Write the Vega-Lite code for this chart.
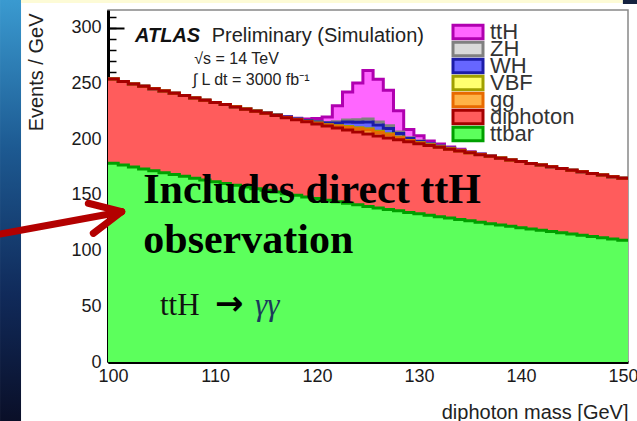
{
  "$schema": "https://vega.github.io/schema/vega-lite/v6.json",
  "width": 520,
  "height": 352,
  "autosize": {"type": "none"},
  "padding": {"left": 108, "top": 10, "right": 9, "bottom": 59},
  "background": "#ffffff",
  "config": {
    "view": {"stroke": "#888888", "strokeWidth": 1.5},
    "axis": {"grid": false},
    "legend": {"rowPadding": -9, "gridAlign": "none", "padding": 0}
  },
  "datasets": {
    "procs": [
      {"p": "ttbar", "rank": 0}, {"p": "diphoton", "rank": 1}, {"p": "gg", "rank": 2},
      {"p": "VBF", "rank": 3}, {"p": "WH", "rank": 4}, {"p": "ZH", "rank": 5}, {"p": "ttH", "rank": 6}
    ],
    "hist": [
      {"lo": 99.5, "hi": 100.5, "ttbar": 178.5, "diphoton": 75.5, "gg": 0, "VBF": 0, "WH": 0, "ZH": 0, "ttH": 0},
      {"lo": 100.5, "hi": 101.5, "ttbar": 176.8, "diphoton": 75.1, "gg": 0, "VBF": 0, "WH": 0, "ZH": 0, "ttH": 0},
      {"lo": 101.5, "hi": 102.5, "ttbar": 175.0, "diphoton": 74.6, "gg": 0, "VBF": 0, "WH": 0, "ZH": 0, "ttH": 0},
      {"lo": 102.5, "hi": 103.5, "ttbar": 173.3, "diphoton": 74.2, "gg": 0, "VBF": 0, "WH": 0, "ZH": 0, "ttH": 0},
      {"lo": 103.5, "hi": 104.5, "ttbar": 171.6, "diphoton": 73.7, "gg": 0, "VBF": 0, "WH": 0, "ZH": 0, "ttH": 0},
      {"lo": 104.5, "hi": 105.5, "ttbar": 170.0, "diphoton": 73.3, "gg": 0, "VBF": 0, "WH": 0, "ZH": 0, "ttH": 0},
      {"lo": 105.5, "hi": 106.5, "ttbar": 168.3, "diphoton": 72.9, "gg": 0, "VBF": 0, "WH": 0, "ZH": 0, "ttH": 0},
      {"lo": 106.5, "hi": 107.5, "ttbar": 166.7, "diphoton": 72.5, "gg": 0, "VBF": 0, "WH": 0, "ZH": 0, "ttH": 0},
      {"lo": 107.5, "hi": 108.5, "ttbar": 165.0, "diphoton": 72.0, "gg": 0, "VBF": 0, "WH": 0, "ZH": 0, "ttH": 0},
      {"lo": 108.5, "hi": 109.5, "ttbar": 163.4, "diphoton": 71.6, "gg": 0, "VBF": 0, "WH": 0, "ZH": 0, "ttH": 0},
      {"lo": 109.5, "hi": 110.5, "ttbar": 161.8, "diphoton": 71.2, "gg": 0, "VBF": 0, "WH": 0, "ZH": 0, "ttH": 0},
      {"lo": 110.5, "hi": 111.5, "ttbar": 160.3, "diphoton": 70.8, "gg": 0, "VBF": 0, "WH": 0, "ZH": 0, "ttH": 0},
      {"lo": 111.5, "hi": 112.5, "ttbar": 158.7, "diphoton": 70.3, "gg": 0.1, "VBF": 0, "WH": 0.1, "ZH": 0, "ttH": 0.1},
      {"lo": 112.5, "hi": 113.5, "ttbar": 157.1, "diphoton": 69.9, "gg": 0.1, "VBF": 0.05, "WH": 0.1, "ZH": 0.05, "ttH": 0.1},
      {"lo": 113.5, "hi": 114.5, "ttbar": 155.6, "diphoton": 69.5, "gg": 0.1, "VBF": 0.05, "WH": 0.15, "ZH": 0.05, "ttH": 0.15},
      {"lo": 114.5, "hi": 115.5, "ttbar": 154.1, "diphoton": 69.1, "gg": 0.15, "VBF": 0.05, "WH": 0.2, "ZH": 0.05, "ttH": 0.25},
      {"lo": 115.5, "hi": 116.5, "ttbar": 152.6, "diphoton": 68.7, "gg": 0.2, "VBF": 0.05, "WH": 0.25, "ZH": 0.1, "ttH": 0.3},
      {"lo": 116.5, "hi": 117.5, "ttbar": 151.1, "diphoton": 68.2, "gg": 0.2, "VBF": 0.1, "WH": 0.3, "ZH": 0.1, "ttH": 0.3},
      {"lo": 117.5, "hi": 118.5, "ttbar": 149.6, "diphoton": 67.8, "gg": 0.3, "VBF": 0.1, "WH": 0.4, "ZH": 0.1, "ttH": 0.6},
      {"lo": 118.5, "hi": 119.5, "ttbar": 148.2, "diphoton": 67.4, "gg": 0.4, "VBF": 0.1, "WH": 0.6, "ZH": 0.2, "ttH": 1.2},
      {"lo": 119.5, "hi": 120.5, "ttbar": 146.7, "diphoton": 67.0, "gg": 0.6, "VBF": 0.2, "WH": 1.0, "ZH": 0.4, "ttH": 2.8},
      {"lo": 120.5, "hi": 121.5, "ttbar": 145.3, "diphoton": 66.6, "gg": 0.8, "VBF": 0.3, "WH": 1.5, "ZH": 0.6, "ttH": 4.8},
      {"lo": 121.5, "hi": 122.5, "ttbar": 143.9, "diphoton": 66.2, "gg": 1.5, "VBF": 0.5, "WH": 2.5, "ZH": 1.0, "ttH": 14.5},
      {"lo": 122.5, "hi": 123.5, "ttbar": 142.5, "diphoton": 65.8, "gg": 2.3, "VBF": 0.8, "WH": 4.0, "ZH": 1.9, "ttH": 25},
      {"lo": 123.5, "hi": 124.5, "ttbar": 141.1, "diphoton": 65.4, "gg": 2.8, "VBF": 1.0, "WH": 5.0, "ZH": 2.2, "ttH": 33},
      {"lo": 124.5, "hi": 125.5, "ttbar": 139.7, "diphoton": 65.0, "gg": 3.5, "VBF": 1.2, "WH": 6.0, "ZH": 2.8, "ttH": 43.5},
      {"lo": 125.5, "hi": 126.5, "ttbar": 138.3, "diphoton": 64.6, "gg": 3.2, "VBF": 1.1, "WH": 5.5, "ZH": 2.7, "ttH": 38.5},
      {"lo": 126.5, "hi": 127.5, "ttbar": 137.0, "diphoton": 64.2, "gg": 2.8, "VBF": 1.0, "WH": 4.7, "ZH": 2.3, "ttH": 32},
      {"lo": 127.5, "hi": 128.5, "ttbar": 135.7, "diphoton": 63.8, "gg": 1.8, "VBF": 0.6, "WH": 3.2, "ZH": 1.4, "ttH": 19},
      {"lo": 128.5, "hi": 129.5, "ttbar": 134.3, "diphoton": 63.4, "gg": 0.9, "VBF": 0.3, "WH": 1.8, "ZH": 0.7, "ttH": 7.3},
      {"lo": 129.5, "hi": 130.5, "ttbar": 133.0, "diphoton": 63.0, "gg": 0.6, "VBF": 0.2, "WH": 1.2, "ZH": 0.4, "ttH": 4.6},
      {"lo": 130.5, "hi": 131.5, "ttbar": 131.7, "diphoton": 62.7, "gg": 0.4, "VBF": 0.15, "WH": 0.8, "ZH": 0.25, "ttH": 2.4},
      {"lo": 131.5, "hi": 132.5, "ttbar": 130.4, "diphoton": 62.3, "gg": 0.3, "VBF": 0.1, "WH": 0.6, "ZH": 0.2, "ttH": 1.8},
      {"lo": 132.5, "hi": 133.5, "ttbar": 129.2, "diphoton": 61.9, "gg": 0.2, "VBF": 0.1, "WH": 0.4, "ZH": 0.1, "ttH": 1.2},
      {"lo": 133.5, "hi": 134.5, "ttbar": 127.9, "diphoton": 61.5, "gg": 0.15, "VBF": 0.05, "WH": 0.3, "ZH": 0.1, "ttH": 0.9},
      {"lo": 134.5, "hi": 135.5, "ttbar": 126.7, "diphoton": 61.1, "gg": 0.1, "VBF": 0.05, "WH": 0.2, "ZH": 0.05, "ttH": 0.6},
      {"lo": 135.5, "hi": 136.5, "ttbar": 125.4, "diphoton": 60.7, "gg": 0.1, "VBF": 0.05, "WH": 0.15, "ZH": 0.05, "ttH": 0.35},
      {"lo": 136.5, "hi": 137.5, "ttbar": 124.2, "diphoton": 60.4, "gg": 0.05, "VBF": 0, "WH": 0.1, "ZH": 0.05, "ttH": 0.3},
      {"lo": 137.5, "hi": 138.5, "ttbar": 123.0, "diphoton": 60.0, "gg": 0.05, "VBF": 0, "WH": 0.1, "ZH": 0, "ttH": 0.25},
      {"lo": 138.5, "hi": 139.5, "ttbar": 121.8, "diphoton": 59.6, "gg": 0.05, "VBF": 0, "WH": 0.05, "ZH": 0, "ttH": 0.2},
      {"lo": 139.5, "hi": 140.5, "ttbar": 120.6, "diphoton": 59.3, "gg": 0, "VBF": 0, "WH": 0.05, "ZH": 0, "ttH": 0.15},
      {"lo": 140.5, "hi": 141.5, "ttbar": 119.4, "diphoton": 58.9, "gg": 0, "VBF": 0, "WH": 0, "ZH": 0, "ttH": 0},
      {"lo": 141.5, "hi": 142.5, "ttbar": 118.3, "diphoton": 58.5, "gg": 0, "VBF": 0, "WH": 0, "ZH": 0, "ttH": 0},
      {"lo": 142.5, "hi": 143.5, "ttbar": 117.1, "diphoton": 58.1, "gg": 0, "VBF": 0, "WH": 0, "ZH": 0, "ttH": 0},
      {"lo": 143.5, "hi": 144.5, "ttbar": 116.0, "diphoton": 57.8, "gg": 0, "VBF": 0, "WH": 0, "ZH": 0, "ttH": 0},
      {"lo": 144.5, "hi": 145.5, "ttbar": 114.8, "diphoton": 57.4, "gg": 0, "VBF": 0, "WH": 0, "ZH": 0, "ttH": 0},
      {"lo": 145.5, "hi": 146.5, "ttbar": 113.7, "diphoton": 57.1, "gg": 0, "VBF": 0, "WH": 0, "ZH": 0, "ttH": 0},
      {"lo": 146.5, "hi": 147.5, "ttbar": 112.6, "diphoton": 56.7, "gg": 0, "VBF": 0, "WH": 0, "ZH": 0, "ttH": 0},
      {"lo": 147.5, "hi": 148.5, "ttbar": 111.5, "diphoton": 56.3, "gg": 0, "VBF": 0, "WH": 0, "ZH": 0, "ttH": 0},
      {"lo": 148.5, "hi": 149.5, "ttbar": 110.4, "diphoton": 56.0, "gg": 0, "VBF": 0, "WH": 0, "ZH": 0, "ttH": 0},
      {"lo": 149.5, "hi": 150.5, "ttbar": 109.3, "diphoton": 55.6, "gg": 0, "VBF": 0, "WH": 0, "ZH": 0, "ttH": 0}
    ]
  },
  "resolve": {"axis": {"x": "independent", "y": "independent"}},
  "layer": [
    {
      "data": {"values": [{}]},
      "layer": [
        {
          "mark": {"type": "rect", "color": {"gradient": "linear", "x1": 0, "y1": 0, "x2": 0, "y2": 1, "stops": [{"offset": 0, "color": "#3a9ad0"}, {"offset": 0.35, "color": "#1d5a92"}, {"offset": 0.7, "color": "#102a5a"}, {"offset": 1, "color": "#0a0f28"}]}},
          "encoding": {
            "x": {"datum": 88.91, "type": "quantitative"},
            "x2": {"datum": 90.97},
            "y": {"datum": 325, "type": "quantitative"},
            "y2": {"datum": -53}
          }
        },
        {
          "mark": {"type": "rect", "color": "#fdfbd6"},
          "encoding": {
            "x": {"datum": 90.97, "type": "quantitative"},
            "x2": {"datum": 150.0},
            "y": {"datum": 325, "type": "quantitative"},
            "y2": {"datum": 322.3}
          }
        },
        {
          "mark": {"type": "rect", "color": "#14223f"},
          "encoding": {
            "x": {"datum": 150.0, "type": "quantitative"},
            "x2": {"datum": 151.4},
            "y": {"datum": 325, "type": "quantitative"},
            "y2": {"datum": 321.4}
          }
        },
        {
          "data": {"name": "hist"},
          "transform": [
            {"fold": ["ttH", "ZH", "WH", "VBF", "gg", "diphoton", "ttbar"], "as": ["key", "value"]},
            {"lookup": "key", "from": {"data": {"name": "procs"}, "key": "p", "fields": ["rank"]}},
            {"stack": "value", "groupby": ["lo"], "sort": [{"field": "rank", "order": "ascending"}], "as": ["y0", "y1"]},
            {"fold": ["lo", "hi"], "as": ["side", "edge"]}
          ],
          "layer": [
            {
              "mark": {"type": "area", "opacity": 1, "interpolate": "linear"},
              "encoding": {
                "x": {"field": "edge", "type": "quantitative",
                  "scale": {"domain": [99.5, 150.5], "nice": false, "zero": false},
                  "axis": {"values": [100, 110, 120, 130, 140, 150], "format": "d", "tickSize": -12, "tickWidth": 2, "tickColor": "#000000",
                    "domainColor": "#000000", "domainWidth": 3, "labelFont": "Liberation Sans", "labelFontSize": 18, "labelColor": "#1a1a1a",
                    "labelPadding": 17, "labelFlush": false, "labelOverlap": false,
                    "title": "diphoton mass [GeV]", "titleFont": "Liberation Sans", "titleFontSize": 20, "titleFontWeight": "normal", "titleColor": "#222222",
                    "titleX": 520, "titleY": 56, "titleAlign": "right", "titleBaseline": "alphabetic"}},
                "y": {"field": "y1", "type": "quantitative",
                  "scale": {"domain": [0, 316], "nice": false},
                  "axis": {"values": [0, 50, 100, 150, 200, 250, 300], "format": "d", "tickSize": -16, "tickWidth": 2, "tickColor": "#000000",
                    "domainColor": "#000000", "domainWidth": 3, "labelFont": "Liberation Sans", "labelFontSize": 18, "labelColor": "#1a1a1a",
                    "labelPadding": 23, "labelOverlap": false,
                    "title": "Events / GeV", "titleFont": "Liberation Sans", "titleFontSize": 20, "titleFontWeight": "normal", "titleColor": "#222222",
                    "titleX": -66, "titleY": 3, "titleAlign": "right", "titleAngle": -90, "titleBaseline": "alphabetic"}},
                "y2": {"field": "y0"},
                "fill": {"field": "key", "type": "nominal",
                  "scale": {"domain": ["ttH", "ZH", "WH", "VBF", "gg", "diphoton", "ttbar"],
                    "range": ["#ff66ff", "#d9d9d9", "#6666ff", "#ffff70", "#ffb347", "#ff5c5c", "#5cff5c"]},
                  "legend": {"title": null, "orient": "none", "legendX": 349, "legendY": 11, "symbolType": "M-3,-1.35H3V1.35H-3Z", "symbolSize": 100,
                    "symbolStrokeWidth": 3, "symbolOpacity": 1, "labelFont": "Liberation Sans", "labelFontSize": 22, "labelColor": "#333333",
                    "labelOffset": 11}},
                "order": [{"field": "edge", "type": "quantitative"}, {"field": "lo", "type": "quantitative"}]
              }
            },
            {
              "mark": {"type": "line", "strokeWidth": 3, "strokeJoin": "miter"},
              "encoding": {
                "x": {"field": "edge", "type": "quantitative"},
                "y": {"field": "y1", "type": "quantitative"},
                "stroke": {"field": "key", "type": "nominal",
                  "scale": {"domain": ["ttH", "ZH", "WH", "VBF", "gg", "diphoton", "ttbar"],
                    "range": ["#b000b0", "#808080", "#1c1ca8", "#a0a000", "#e86a00", "#a50000", "#00a000"]},
                  "legend": {"title": null, "orient": "none", "legendX": 349, "legendY": 11, "symbolType": "M-3,-1.35H3V1.35H-3Z", "symbolSize": 100,
                    "symbolStrokeWidth": 3, "symbolOpacity": 1, "labelFont": "Liberation Sans", "labelFontSize": 22, "labelColor": "#333333",
                    "labelOffset": 11}},
                "order": [{"field": "edge", "type": "quantitative"}, {"field": "lo", "type": "quantitative"}]
              }
            }
          ]
        },
        {
          "mark": {"type": "text", "text": "ATLAS", "font": "Liberation Sans", "fontSize": 20, "fontWeight": "bold", "fontStyle": "italic", "align": "left", "baseline": "alphabetic", "color": "#111111"},
          "encoding": {"x": {"datum": 102.15, "type": "quantitative"}, "y": {"datum": 287.6, "type": "quantitative"}}
        },
        {
          "mark": {"type": "text", "text": "Preliminary (Simulation)", "font": "Liberation Sans", "fontSize": 20, "align": "left", "baseline": "alphabetic", "color": "#222222"},
          "encoding": {"x": {"datum": 109.67, "type": "quantitative"}, "y": {"datum": 287.6, "type": "quantitative"}}
        },
        {
          "mark": {"type": "text", "text": "√s = 14 TeV", "font": "Liberation Sans", "fontSize": 16, "align": "left", "baseline": "alphabetic", "color": "#222222"},
          "encoding": {"x": {"datum": 107.96, "type": "quantitative"}, "y": {"datum": 267.3, "type": "quantitative"}}
        },
        {
          "mark": {"type": "text", "text": "∫ L dt = 3000 fb⁻¹", "font": "Liberation Sans", "fontSize": 16, "align": "left", "baseline": "alphabetic", "color": "#222222"},
          "encoding": {"x": {"datum": 107.8, "type": "quantitative"}, "y": {"datum": 248.6, "type": "quantitative"}}
        },
        {
          "mark": {"type": "text", "text": "Includes direct ttH", "font": "Liberation Serif", "fontSize": 42, "fontWeight": "bold", "align": "left", "baseline": "alphabetic", "color": "#000000"},
          "encoding": {"x": {"datum": 102.96, "type": "quantitative"}, "y": {"datum": 142.5, "type": "quantitative"}}
        },
        {
          "mark": {"type": "text", "text": "observation", "font": "Liberation Serif", "fontSize": 42, "fontWeight": "bold", "align": "left", "baseline": "alphabetic", "color": "#000000"},
          "encoding": {"x": {"datum": 102.96, "type": "quantitative"}, "y": {"datum": 97.6, "type": "quantitative"}}
        },
        {
          "mark": {"type": "text", "text": "ttH", "font": "Liberation Serif", "fontSize": 31, "align": "left", "baseline": "alphabetic", "color": "#111111"},
          "encoding": {"x": {"datum": 104.6, "type": "quantitative"}, "y": {"datum": 42.2, "type": "quantitative"}}
        },
        {
          "mark": {"type": "text", "text": "→", "font": "DejaVu Sans", "fontSize": 34, "fontWeight": "bold", "align": "left", "baseline": "alphabetic", "color": "#000000"},
          "encoding": {"x": {"datum": 110.0, "type": "quantitative"}, "y": {"datum": 42.2, "type": "quantitative"}}
        },
        {
          "mark": {"type": "text", "text": "γγ", "font": "Liberation Serif", "fontSize": 31, "fontStyle": "italic", "align": "left", "baseline": "alphabetic", "color": "#1b3b5b"},
          "encoding": {"x": {"datum": 113.92, "type": "quantitative"}, "y": {"datum": 42.2, "type": "quantitative"}}
        },
        {
          "mark": {"type": "rule", "color": "#b30000", "strokeWidth": 7, "strokeCap": "round"},
          "encoding": {"x": {"datum": 88.91, "type": "quantitative"}, "y": {"datum": 114.9, "type": "quantitative"}, "x2": {"datum": 100.84}, "y2": {"datum": 134.9}}
        },
        {
          "mark": {"type": "rule", "color": "#b30000", "strokeWidth": 7, "strokeCap": "round"},
          "encoding": {"x": {"datum": 97.57, "type": "quantitative"}, "y": {"datum": 142.5, "type": "quantitative"}, "x2": {"datum": 100.84}, "y2": {"datum": 134.9}}
        },
        {
          "mark": {"type": "rule", "color": "#b30000", "strokeWidth": 7, "strokeCap": "round"},
          "encoding": {"x": {"datum": 98.06, "type": "quantitative"}, "y": {"datum": 115.5, "type": "quantitative"}, "x2": {"datum": 100.84}, "y2": {"datum": 134.9}}
        }
      ]
    },
    {
      "data": {"values": [{"a": 120, "b": 100}]},
      "mark": {"type": "point", "opacity": 0},
      "encoding": {
        "x": {"field": "a", "type": "quantitative",
          "axis": {"orient": "bottom", "values": [100, 102, 104, 106, 108, 110, 112, 114, 116, 118, 120, 122, 124, 126, 128, 130, 132, 134, 136, 138, 140, 142, 144, 146, 148, 150],
            "tickSize": -6, "tickWidth": 1.5, "tickColor": "#000000", "labels": false, "domain": false, "title": null, "grid": false}},
        "y": {"field": "b", "type": "quantitative",
          "axis": {"orient": "left", "values": [0, 10, 20, 30, 40, 50, 60, 70, 80, 90, 100, 110, 120, 130, 140, 150, 160, 170, 180, 190, 200, 210, 220, 230, 240, 250, 260, 270, 280, 290, 300, 310],
            "tickSize": -8, "tickWidth": 1.5, "tickColor": "#000000", "labels": false, "domain": false, "title": null, "grid": false}}
      }
    }
  ]
}
